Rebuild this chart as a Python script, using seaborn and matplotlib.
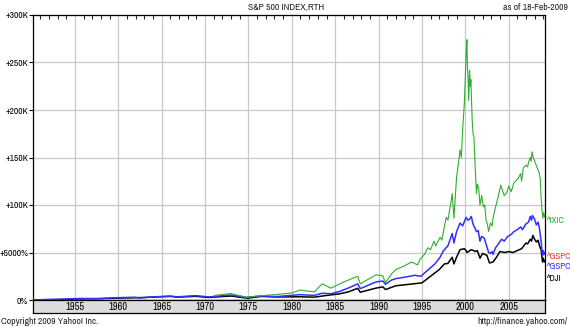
import matplotlib
matplotlib.use("Agg")
import matplotlib.pyplot as plt
import matplotlib.transforms as mtransforms
from matplotlib import font_manager
from matplotlib.ticker import MultipleLocator
import seaborn as sns
import pandas as pd

# ---------------- data (percent change, in thousands of %) ----------------
gspc_years = [1950.1, 1952.0, 1954.0, 1955.5, 1957.8, 1959.5, 1961.9, 1962.5, 1964.0,
              1966.0, 1966.8, 1968.9, 1970.4, 1972.9, 1974.8, 1976.5, 1978.2, 1980.9,
              1982.6, 1983.5, 1984.5, 1985.5, 1986.5, 1987.6, 1987.9, 1989.7, 1990.5,
              1990.8, 1991.5, 1992.0, 1993.0, 1994.2, 1994.9, 1995.5, 1996.0, 1996.5,
              1997.1, 1997.5, 1997.8, 1998.0, 1998.5, 1998.7, 1999.0, 1999.4, 1999.7,
              2000.1, 2000.3, 2000.5, 2000.7, 2000.9, 2001.1, 2001.3, 2001.5, 2001.7,
              2001.9, 2002.2, 2002.5, 2002.7, 2002.9, 2003.1, 2003.2, 2003.5, 2003.9,
              2004.2, 2004.5, 2004.9, 2005.3, 2005.6, 2006.0, 2006.4, 2006.6, 2007.0,
              2007.3, 2007.5, 2007.65, 2007.75, 2008.0, 2008.2, 2008.4, 2008.55, 2008.75,
              2008.85, 2008.92, 2009.0, 2009.13, 2009.18]
gspc_vals = [0.0, 0.6, 1.0, 1.6, 1.5, 2.3, 2.9, 2.1, 3.3,
             4.1, 3.3, 4.6, 3.2, 5.3, 2.8, 4.3, 3.6, 5.6,
             4.9, 7.1, 6.6, 9.0, 12.5, 17.0, 12.0, 19.0, 20.0,
             16.5, 21.0, 22.5, 24.0, 26.0, 25.0, 30.0, 34.0, 38.0,
             45.0, 52.0, 55.0, 57.0, 70.0, 60.0, 72.0, 81.0, 78.0,
             87.0, 84.0, 85.0, 88.0, 80.0, 76.0, 72.0, 73.0, 62.0,
             67.0, 65.0, 56.0, 50.0, 49.0, 51.0, 48.0, 55.0, 60.0,
             64.0, 62.0, 67.0, 69.0, 72.0, 74.0, 77.0, 74.0, 80.0,
             82.0, 88.0, 84.0, 89.0, 85.0, 79.0, 82.0, 76.0, 62.0,
             52.0, 47.0, 52.0, 48.0, 50.0]

dji_years = [1950.1, 1953.0, 1955.5, 1957.8, 1960.0, 1962.5, 1966.0, 1966.8, 1968.9,
             1970.4, 1973.0, 1974.9, 1976.5, 1978.2, 1980.9, 1982.6, 1984.0, 1985.5,
             1986.5, 1987.6, 1987.9, 1989.7, 1990.5, 1990.8, 1992.0, 1994.0, 1995.0,
             1996.0, 1997.0, 1997.6, 1998.0, 1998.5, 1998.7, 1999.0, 1999.4, 1999.9,
             2000.1, 2000.2, 2000.7, 2001.2, 2001.4, 2001.7, 2002.0, 2002.5, 2002.8,
             2003.2, 2003.6, 2004.0, 2004.6, 2005.0, 2005.5, 2006.0, 2006.5, 2007.0,
             2007.2, 2007.5, 2007.65, 2007.8, 2008.0, 2008.2, 2008.4, 2008.6, 2008.75,
             2008.85, 2008.92, 2009.0, 2009.13, 2009.18]
dji_vals = [0.0, 0.4, 1.2, 1.4, 2.0, 2.5, 3.8, 3.0, 3.9,
            2.7, 4.2, 1.9, 3.8, 3.2, 3.4, 3.0, 4.8, 6.5,
            8.5, 12.3, 8.2, 12.5, 13.8, 11.0, 15.0, 17.0, 18.0,
            25.0, 32.0, 38.0, 38.5, 45.0, 38.0, 45.0, 53.0, 54.0,
            52.0, 50.0, 53.0, 51.0, 52.0, 44.0, 49.0, 47.0, 39.0,
            40.0, 45.0, 51.0, 50.0, 51.0, 50.0, 52.0, 54.0, 60.0,
            59.0, 64.0, 62.0, 68.0, 64.0, 61.0, 63.0, 56.0, 53.0,
            45.0, 40.0, 44.0, 40.0, 41.0]

ixic_years = [1971.1, 1972.9, 1974.8, 1976.5, 1978.2, 1980.1, 1980.9, 1982.6, 1983.5,
              1984.5, 1986.0, 1987.6, 1987.9, 1989.7, 1990.5, 1990.8, 1991.5, 1992.0,
              1993.0, 1993.8, 1994.5, 1994.8, 1995.3, 1995.7, 1996.0, 1996.4, 1996.6,
              1997.1, 1997.3, 1997.8, 1998.0, 1998.3, 1998.5, 1998.7, 1999.0, 1999.3,
              1999.4, 1999.55, 1999.7, 1999.9, 2000.05, 2000.12, 2000.19, 2000.26, 2000.32,
              2000.4, 2000.5, 2000.58, 2000.65, 2000.8, 2000.9, 2001.0, 2001.1, 2001.2,
              2001.3, 2001.4, 2001.55, 2001.7, 2001.9, 2002.1, 2002.25, 2002.4, 2002.55,
              2002.7, 2002.9, 2003.1, 2003.2, 2003.5, 2003.7, 2003.9, 2004.1, 2004.3,
              2004.5, 2004.8, 2005.0, 2005.3, 2005.6, 2006.1, 2006.4, 2006.5, 2006.7,
              2007.0, 2007.2, 2007.3, 2007.5, 2007.6, 2007.7, 2007.85, 2008.1, 2008.3,
              2008.5, 2008.65, 2008.75, 2008.85, 2008.95, 2009.05, 2009.18]
ixic_vals = [4.8, 6.8, 2.8, 4.6, 5.8, 7.5, 10.5, 8.5, 17.0,
             12.5, 19.0, 25.0, 17.0, 26.5, 25.5, 18.0, 27.5, 32.0,
             36.0, 40.0, 37.0, 43.0, 48.0, 55.0, 53.0, 62.0, 57.0,
             66.0, 63.0, 87.0, 84.0, 100.0, 112.0, 86.0, 129.0, 150.0,
             158.0, 150.0, 179.0, 207.0, 245.0, 262.0, 274.0, 245.0, 235.0,
             210.0, 242.0, 225.0, 232.0, 190.0, 175.0, 172.0, 150.0, 129.0,
             112.0, 122.0, 118.0, 100.0, 110.0, 98.0, 100.0, 84.0, 80.0,
             72.0, 81.0, 78.0, 86.0, 98.0, 105.0, 113.0, 121.0, 115.0,
             110.0, 113.0, 120.0, 114.0, 123.0, 128.0, 133.0, 125.0, 139.0,
             142.0, 140.0, 145.0, 150.0, 146.0, 156.0, 150.0, 144.0, 139.0,
             135.0, 128.0, 108.0, 95.0, 86.0, 92.0, 87.0]

ytick_vals = [0, 50, 100, 150, 200, 250, 300]
ytick_labels = ["0%", "+5000%", "+100K", "+150K", "+200K", "+250K", "+300K"]
xtick_years = [1955, 1960, 1965, 1970, 1975, 1980, 1985, 1990, 1995, 2000, 2005]

title_text = "S&P 500 INDEX,RTH"
date_text = "as of 18-Feb-2009"
copyright_text = "Copyright 2009 Yahoo! Inc."
url_text = "http://finance.yahoo.com/"
series_labels = ["^IXIC", "^GSPC", "^GSPC", "^DJI"]

# ---------------- styling ----------------
sns.set_style("white")

narrow = None
for f in font_manager.fontManager.ttflist:
    if "Narrow" in f.name:
        narrow = f.name
        break
if narrow is None:
    for f in font_manager.fontManager.ttflist:
        if "Condensed" in f.name:
            narrow = f.name
            break
FONT = [narrow, "DejaVu Sans"] if narrow else ["DejaVu Sans"]
plt.rcParams["font.family"] = FONT
FS = 7 if narrow else 5.6
FS_Y = 6.8 if narrow else 5.4
FS_LAB = 6.5 if narrow else 5.2
FS_YR = 7.5 if narrow else 5.8

GREEN = "#2fae2f"
BLUE = "#3030ff"
BLACK = "#000000"
RED = "#ff3030"
GRID = "#c8c8c8"

W, H = 570, 327
fig = plt.figure(figsize=(W / 100, H / 100), dpi=100)
fig.patch.set_facecolor("white")

x0, x1 = 33, 545
ytop, ybot = 15, 300
ax = fig.add_axes([x0 / W, 1 - ybot / H, (x1 - x0) / W, (ybot - ytop) / H])
ax.set_facecolor("white")

df_dji = pd.DataFrame({"year": dji_years, "val": dji_vals})
df_gspc = pd.DataFrame({"year": gspc_years, "val": gspc_vals})
df_ixic = pd.DataFrame({"year": ixic_years, "val": ixic_vals})

sns.lineplot(data=df_dji, x="year", y="val", ax=ax, color=BLACK, lw=1.1, zorder=3)
sns.lineplot(data=df_gspc, x="year", y="val", ax=ax, color=BLUE, lw=1.1, zorder=4)
sns.lineplot(data=df_ixic, x="year", y="val", ax=ax, color=GREEN, lw=0.8, zorder=5)

ax.set_xlim(1950.15, 2009.2)
ax.set_ylim(0, 300)
ax.set_xlabel("")
ax.set_ylabel("")

ax.set_yticks(ytick_vals)
ax.set_yticklabels(ytick_labels, fontsize=FS_Y)
ax.set_xticks(xtick_years)
ax.grid(True, color=GRID, lw=0.9)
ax.set_axisbelow(True)
ax.tick_params(axis="x", which="major", bottom=False, labelbottom=False, top=False)
ax.tick_params(axis="y", which="major", left=True, length=3, width=0.8, pad=0.5, colors="black")
ax.xaxis.set_minor_locator(MultipleLocator(1))
ax.tick_params(axis="x", which="minor", top=True, bottom=False, direction="in", length=3, width=0.8)
for s in ["left", "top", "right", "bottom"]:
    ax.spines[s].set_visible(True)
    ax.spines[s].set_color("black")
    ax.spines[s].set_linewidth(0.9)

# x-axis band
band = fig.add_axes([x0 / W, 1 - 313 / H, (x1 - x0) / W, 13 / H])
band.set_facecolor("#dcdcdc")
band.set_xlim(ax.get_xlim())
band.set_ylim(0, 1)
band.set_xticks([])
band.set_yticks([])
for s in band.spines.values():
    s.set_color("black")
    s.set_linewidth(0.9)
for yr in xtick_years:
    band.text(yr, 0.45, str(yr), ha="center", va="center", fontsize=FS_YR, color="black")

# series labels on the right
trans = mtransforms.blended_transform_factory(ax.transAxes, ax.transData)
lab_y = [84, 46, 35, 23]
lab_c = [GREEN, RED, BLUE, BLACK]
for lab, yv, c in zip(series_labels, lab_y, lab_c):
    ax.text(1.003, yv, lab, transform=trans, ha="left", va="center", fontsize=FS_LAB, color=c,
            clip_on=False)

# header / footer
fig.text(286 / W, 1 - 7 / H, title_text, ha="center", va="center", fontsize=FS)
fig.text(568 / W, 1 - 7 / H, date_text, ha="right", va="center", fontsize=FS)
fig.text(1 / W, 1 - 321 / H, copyright_text, ha="left", va="center", fontsize=FS)
fig.text(568 / W, 1 - 321 / H, url_text, ha="right", va="center", fontsize=FS)

fig.savefig("out.png", dpi=100, facecolor="white")
